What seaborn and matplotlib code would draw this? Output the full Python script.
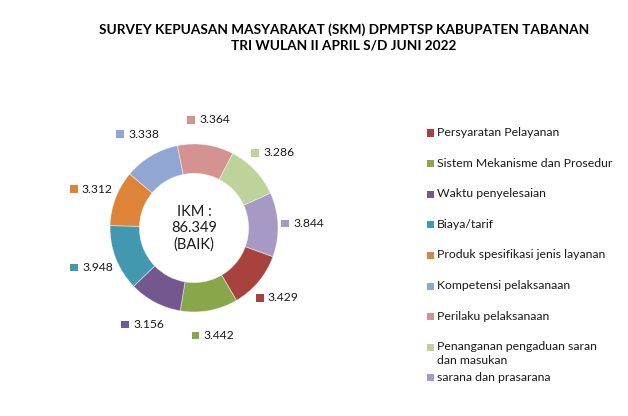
import numpy as np
import seaborn as sns
import matplotlib.pyplot as plt
from matplotlib.patches import Rectangle

# data
aspek = ["Persyaratan Pelayanan", "Sistem Mekanisme dan Prosedur", "Waktu penyelesaian",
         "Biaya/tarif", "Produk spesifikasi jenis layanan", "Kompetensi pelaksanaan",
         "Perilaku pelaksanaan", "Penanganan pengaduan saran\ndan masukan", "sarana dan prasarana"]
nilai = [3.429, 3.442, 3.156, 3.948, 3.312, 3.338, 3.364, 3.286, 3.844]
warna = ["#A8423F", "#89A64B", "#72588F", "#4298AF", "#DD8438",
         "#91A6D3", "#D49391", "#BDD39A", "#A699C4"]
judul = "SURVEY KEPUASAN MASYARAKAT (SKM) DPMPTSP KABUPATEN TABANAN\nTRI WULAN II APRIL S/D JUNI 2022"
teks_tengah = "IKM :\n86.349\n(BAIK)"

sns.set_theme(style="white")
plt.rcParams['font.family'] = ['Lato', 'DejaVu Sans']

fig = plt.figure(figsize=(6.28, 4.16), dpi=100)
fig.patch.set_facecolor("white")

ax = fig.add_axes([0.0682, 0.0885, 0.4815, 0.727])
wedges, _ = ax.pie(nilai, colors=warna, startangle=-20, counterclock=False,
                   radius=1.0, wedgeprops=dict(width=0.35, edgecolor=(1, 1, 1, 0.5), linewidth=0.6))
ax.set_xlim(-1.8, 1.8)
ax.set_ylim(-1.8, 1.8)
ax.set_aspect("equal")
ax.axis("off")

# data labels with a small key square
for w, v, c in zip(wedges, nilai, warna):
    ang = np.deg2rad((w.theta1 + w.theta2) / 2)
    px, py = 1.3 * np.cos(ang), 1.3 * np.sin(ang)
    ax.add_patch(Rectangle((px - 0.26, py - 0.045), 0.09, 0.09, color=c, lw=0))
    ax.text(px - 0.12, py, f"{v:.3f}", ha="left", va="center", fontsize=8.7, color="#1a1a1a")

ax.text(0, 0, teks_tengah, ha="center", va="center", fontsize=10.5, color="#1a1a1a", linespacing=1.2)

fig.text(0.548, 0.945, judul, ha="center", va="top", fontsize=9.8, fontweight="bold",
         color="black", linespacing=1.4)

# legend on the right
top_y = 1 - 133 / 416
step = 30.6 / 416
for i, (nama, c) in enumerate(zip(aspek, warna)):
    y = top_y - i * step
    fig.patches.append(Rectangle((427 / 628, y - 3.5 / 416), 7 / 628, 7 / 416, color=c, lw=0,
                                 transform=fig.transFigure, figure=fig))
    fig.text(437 / 628, y + 6 / 416, nama, ha="left", va="top", fontsize=8.8,
             color="#1a1a1a", linespacing=1.3)

fig.savefig("out.png", dpi=100)
